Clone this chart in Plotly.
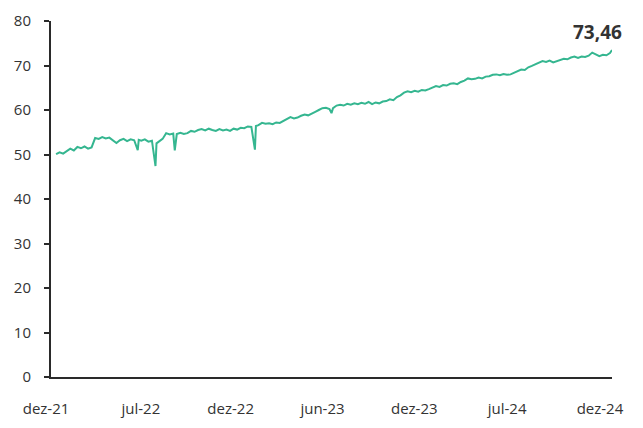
import plotly.graph_objects as go

dates = [
    "2021-12-27", "2022-01-03", "2022-01-10", "2022-01-17", "2022-01-24", "2022-01-31",
    "2022-02-07", "2022-02-14", "2022-02-21", "2022-02-28", "2022-03-07", "2022-03-14",
    "2022-03-21", "2022-03-28", "2022-04-04", "2022-04-11", "2022-04-18", "2022-04-25",
    "2022-05-02", "2022-05-09", "2022-05-16", "2022-05-23", "2022-05-30", "2022-06-06",
    "2022-06-08", "2022-06-13", "2022-06-20", "2022-06-27", "2022-07-04", "2022-07-11",
    "2022-07-13", "2022-07-18", "2022-07-25", "2022-08-01", "2022-08-08", "2022-08-15",
    "2022-08-18", "2022-08-22", "2022-08-29", "2022-09-05", "2022-09-12", "2022-09-19",
    "2022-09-26", "2022-10-03", "2022-10-10", "2022-10-17", "2022-10-24", "2022-10-31",
    "2022-11-07", "2022-11-14", "2022-11-21", "2022-11-28", "2022-12-05", "2022-12-12",
    "2022-12-19", "2022-12-26", "2023-01-02", "2023-01-09", "2023-01-16", "2023-01-23",
    "2023-01-25", "2023-01-30", "2023-02-06", "2023-02-13", "2023-02-20", "2023-02-27",
    "2023-03-06", "2023-03-13", "2023-03-20", "2023-03-27", "2023-04-03", "2023-04-10",
    "2023-04-17", "2023-04-24", "2023-05-01", "2023-05-08", "2023-05-15", "2023-05-22",
    "2023-05-29", "2023-06-05", "2023-06-12", "2023-06-19", "2023-06-23", "2023-06-26",
    "2023-07-03", "2023-07-10", "2023-07-17", "2023-07-24", "2023-07-31", "2023-08-07",
    "2023-08-14", "2023-08-21", "2023-08-28", "2023-09-04", "2023-09-11", "2023-09-18",
    "2023-09-25", "2023-10-02", "2023-10-09", "2023-10-16", "2023-10-23", "2023-10-30",
    "2023-11-06", "2023-11-13", "2023-11-20", "2023-11-27", "2023-12-04", "2023-12-11",
    "2023-12-18", "2023-12-25", "2024-01-01", "2024-01-08", "2024-01-15", "2024-01-22",
    "2024-01-29", "2024-02-05", "2024-02-12", "2024-02-19", "2024-02-26", "2024-03-04",
    "2024-03-11", "2024-03-18", "2024-03-25", "2024-04-01", "2024-04-08", "2024-04-15",
    "2024-04-22", "2024-04-29", "2024-05-06", "2024-05-13", "2024-05-20", "2024-05-27",
    "2024-06-03", "2024-06-10", "2024-06-17", "2024-06-24", "2024-07-01", "2024-07-08",
    "2024-07-15", "2024-07-22", "2024-07-29", "2024-08-05", "2024-08-12", "2024-08-19",
    "2024-08-26", "2024-09-02", "2024-09-09", "2024-09-16", "2024-09-23", "2024-09-30",
    "2024-10-07", "2024-10-14", "2024-10-21", "2024-10-28", "2024-11-04", "2024-11-11",
    "2024-11-18", "2024-11-25", "2024-12-02", "2024-12-09", "2024-12-16", "2024-12-23",
    "2024-12-27",
]

values = [
    50.1, 50.5, 50.2, 50.7, 51.3, 50.9,
    51.7, 51.4, 51.8, 51.3, 51.6, 53.7,
    53.5, 53.9, 53.6, 53.8, 53.3, 52.6,
    53.2, 53.5, 53.0, 53.4, 53.2, 51.0,
    53.3, 53.1, 53.4, 52.9, 53.1, 47.4,
    52.5, 53.0, 53.5, 54.8, 54.5, 54.7,
    50.9, 54.6, 54.9, 54.6, 54.8, 55.3,
    55.1, 55.5, 55.7, 55.4, 55.8, 55.5,
    55.3, 55.7, 55.4, 55.6, 55.3, 55.8,
    55.6, 56.0, 55.9, 56.3, 56.2, 51.1,
    56.4, 56.6, 57.1, 56.9, 57.0, 56.8,
    57.2, 57.1, 57.6, 57.9, 58.4, 58.1,
    58.3, 58.7, 59.0, 58.8, 59.3, 59.6,
    60.0, 60.4, 60.5, 60.2, 59.3, 60.4,
    61.0, 61.2, 61.0, 61.4, 61.2, 61.5,
    61.3, 61.6, 61.4, 61.8, 61.3, 61.7,
    61.5, 61.9, 62.0, 62.4, 62.2, 62.9,
    63.3, 63.9, 64.2, 64.0, 64.3, 64.1,
    64.5, 64.4, 64.7, 65.0, 65.4, 65.2,
    65.6, 65.5, 65.9, 66.0, 65.8, 66.3,
    66.6, 67.1, 66.9, 67.0, 67.3, 67.1,
    67.5, 67.6, 67.9, 68.0, 67.8, 68.1,
    67.9, 68.0, 68.4, 68.7, 69.1, 69.0,
    69.6, 69.9, 70.3, 70.6, 71.0, 70.8,
    71.1, 70.7, 71.0, 71.2, 71.5, 71.4,
    71.8, 72.0, 71.7, 72.0, 71.9, 72.2,
    72.9, 72.5, 72.1, 72.4, 72.3, 72.8,
    73.46,
]

tick_dates = ["2021-12-23", "2022-06-28", "2022-12-22", "2023-06-21",
              "2023-12-19", "2024-06-19", "2024-12-19"]
tick_labels = ["dez-21", "jul-22", "dez-22", "jun-23", "dez-23", "jul-24", "dez-24"]
y_ticks = [0, 10, 20, 30, 40, 50, 60, 70, 80]
last_label = "73,46"

fig = go.Figure()
fig.add_trace(go.Scatter(
    x=dates, y=values, mode="lines",
    line=dict(color="#35b690", width=2),
    hoverinfo="skip", showlegend=False,
))

fig.add_annotation(
    x=1.0, y=1.0, xref="paper", yref="paper",
    xanchor="right", yanchor="middle", xshift=12, yshift=-11,
    text="<b>" + last_label + "</b>", showarrow=False,
    font=dict(family="Open Sans", size=19, color="#333333"),
)

# the page body has an 8px default margin, so the figure is sized to fit
fig.update_layout(
    width=635, height=420,
    margin=dict(l=43, r=31, t=13, b=51, autoexpand=False),
    paper_bgcolor="white", plot_bgcolor="white",
    font=dict(family="Open Sans", size=15, color="#333333"),
    xaxis=dict(
        range=["2021-12-17", "2024-12-27"],
        tickvals=tick_dates, ticktext=tick_labels,
        showgrid=False, zeroline=False, automargin=False,
        showline=True, linecolor="#2a2a2a", linewidth=2,
        ticks="", ticklabelstandoff=17, ticklabelshift=-8,
        tickfont=dict(family="Open Sans", size=15, color="#333333"),
    ),
    yaxis=dict(
        range=[0, 80], tickvals=y_ticks,
        showgrid=False, zeroline=False, automargin=False,
        showline=True, linecolor="#2a2a2a", linewidth=2,
        ticks="outside", ticklen=5, tickwidth=2, tickcolor="#2a2a2a",
        ticklabelstandoff=10,
        tickfont=dict(family="Open Sans", size=15, color="#333333"),
    ),
)

fig.write_html("out.html")
